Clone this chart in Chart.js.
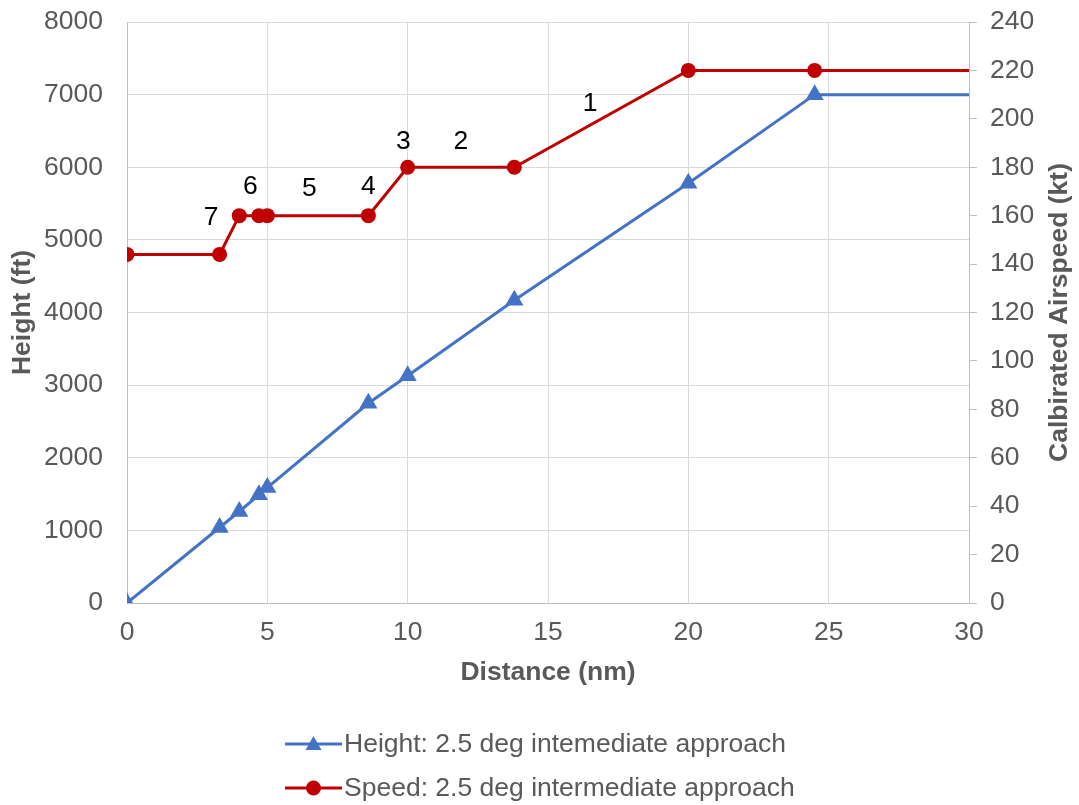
<!DOCTYPE html>
<html>
<head>
<meta charset="utf-8">
<script src="https://cdn.jsdelivr.net/npm/chart.js@4.4.1/dist/chart.umd.min.js"></script>
<style>
  body { margin: 0; background: #fff; }
  #wrap { width: 1079px; height: 805px; position: relative; }
</style>
</head>
<body>
<div id="wrap"><canvas id="approach"></canvas></div>
<script>
// height profile (ft) against distance (nm)
var distHeight = [0, 3.3, 4, 4.7, 5, 8.6, 10, 13.8, 20, 24.5, 30];
var heightFt   = [0, 1040, 1260, 1490, 1590, 2750, 3130, 4170, 5780, 7000, 7000];
// speed profile (kt)
var distSpeed  = [0, 3.3, 4, 4.7, 5, 8.6, 10, 13.8, 20, 24.5, 30];
var speedKt    = [144, 144, 160, 160, 160, 160, 180, 180, 220, 220, 220];

var seriesNames = ["Height: 2.5 deg intemediate approach", "Speed: 2.5 deg intermediate approach"];
var seriesColors = ["#4472C4", "#C00000"];

// segment numbers written on the chart (x in nm, y in ft on left axis)
var noteText = ["1", "2", "3", "4", "5", "6", "7"];
var noteX    = [16.5, 11.9, 9.85, 8.6, 6.5, 4.4, 3.0];
var noteY    = [6870, 6350, 6350, 5730, 5700, 5730, 5300];

var xTicks = [0, 5, 10, 15, 20, 25, 30];

var FONT = "'Liberation Sans', Arial, sans-serif";
var GREY = "#595959";
var FS = 26.5;

function toXY(xs, ys){
  var out = [];
  for (var i = 0; i < xs.length; i++) out.push({x: xs[i], y: ys[i]});
  return out;
}

// last point of each line has no marker
function radii(n, r){
  var a = [];
  for (var i = 0; i < n; i++) a.push(i == n - 1 ? 0 : r);
  return a;
}

function plain(v){ return String(v); }

var notesPlugin = {
  id: 'notes',
  afterDatasetsDraw: function(chart){
    var ctx = chart.ctx, sx = chart.scales.x, sy = chart.scales.y;
    ctx.save();
    ctx.font = FS + "px " + FONT;
    ctx.fillStyle = "#000";
    ctx.textAlign = "center";
    ctx.textBaseline = "middle";
    for (var i = 0; i < noteText.length; i++){
      ctx.fillText(noteText[i], sx.getPixelForValue(noteX[i]), sy.getPixelForValue(noteY[i]));
    }
    ctx.restore();
  }
};

var extrasPlugin = {
  id: 'extras',
  afterDraw: function(chart){
    var ctx = chart.ctx, area = chart.chartArea;
    ctx.save();
    // right axis title, reading bottom to top
    ctx.font = "bold " + FS + "px " + FONT;
    ctx.fillStyle = GREY;
    ctx.textAlign = "center";
    ctx.textBaseline = "middle";
    ctx.translate(1060, (area.top + area.bottom) / 2);
    ctx.rotate(-Math.PI / 2);
    ctx.fillText("Calbirated Airspeed (kt)", 0, 0);
    ctx.restore();

    // legend, one series per row
    ctx.save();
    ctx.font = FS + "px " + FONT;
    var lineW = 57, gap = 2, maxW = 0;
    for (var i = 0; i < seriesNames.length; i++){
      maxW = Math.max(maxW, lineW + gap + ctx.measureText(seriesNames[i]).width);
    }
    var left = Math.round((chart.width - maxW) / 2);
    var rowY = [744, 788];
    for (var i = 0; i < seriesNames.length; i++){
      var y = rowY[i];
      ctx.strokeStyle = seriesColors[i];
      ctx.fillStyle = seriesColors[i];
      ctx.lineWidth = 3;
      ctx.beginPath();
      ctx.moveTo(left, y);
      ctx.lineTo(left + lineW, y);
      ctx.stroke();
      var cx = left + lineW / 2;
      ctx.beginPath();
      if (i == 0){
        ctx.moveTo(cx, y - 8);
        ctx.lineTo(cx + 8, y + 6);
        ctx.lineTo(cx - 8, y + 6);
        ctx.closePath();
      } else {
        ctx.arc(cx, y, 7.5, 0, Math.PI * 2);
      }
      ctx.fill();
      ctx.fillStyle = GREY;
      ctx.textAlign = "left";
      ctx.textBaseline = "middle";
      ctx.fillText(seriesNames[i], left + lineW + gap, y + 1);
    }
    ctx.restore();
  }
};

new Chart(document.getElementById("approach"), {
  type: 'line',
  data: {
    datasets: [{
        label: seriesNames[0],
        data: toXY(distHeight, heightFt),
        yAxisID: 'y',
        borderColor: seriesColors[0],
        backgroundColor: seriesColors[0],
        borderWidth: 3,
        pointStyle: 'triangle',
        pointRadius: radii(distHeight.length, 10.5),
        pointBorderWidth: 0,
        fill: false
      }, {
        label: seriesNames[1],
        data: toXY(distSpeed, speedKt),
        yAxisID: 'y2',
        borderColor: seriesColors[1],
        backgroundColor: seriesColors[1],
        borderWidth: 3,
        pointStyle: 'circle',
        pointRadius: radii(distSpeed.length, 7.5),
        pointBorderWidth: 0,
        fill: false
      }
    ]
  },
  options: {
    responsive: true,
    maintainAspectRatio: false,
    animation: false,
    layout: { padding: { top: 22, bottom: 112, left: 0, right: 0 } },
    plugins: {
      legend: { display: false },
      tooltip: { enabled: false }
    },
    scales: {
      x: {
        type: 'linear',
        min: 0, max: 30,
        afterBuildTicks: function(s){ s.ticks = xTicks.map(function(v){ return {value: v}; }); },
        afterFit: function(s){ s.height = 90; s.paddingLeft = 0; s.paddingRight = 0; },
        grid: { color: '#d9d9d9', drawTicks: false },
        border: { color: '#bfbfbf', width: 1 },
        ticks: { padding: 14, color: GREY, font: { family: FONT, size: FS }, callback: plain },
        title: { display: true, text: 'Distance (nm)', color: GREY, padding: 4,
                 font: { family: FONT, size: FS, weight: 'bold' } }
      },
      y: {
        position: 'left',
        min: 0, max: 8000,
        afterFit: function(s){ s.width = 127; s.paddingTop = 0; s.paddingBottom = 0; },
        grid: { color: '#d9d9d9', drawTicks: false },
        border: { color: '#bfbfbf', width: 1 },
        ticks: { stepSize: 1000, padding: 24, color: GREY, font: { family: FONT, size: FS }, callback: plain },
        title: { display: true, text: 'Height (ft)', color: GREY, padding: 7,
                 font: { family: FONT, size: FS, weight: 'bold' } }
      },
      y2: {
        position: 'right',
        min: 0, max: 240,
        afterFit: function(s){ s.width = 110; s.paddingTop = 0; s.paddingBottom = 0; },
        grid: { drawOnChartArea: false, color: '#bfbfbf', tickLength: 8 },
        border: { color: '#bfbfbf', width: 1 },
        ticks: { stepSize: 20, padding: 13, color: GREY, font: { family: FONT, size: FS }, callback: plain }
      }
    }
  },
  plugins: [notesPlugin, extrasPlugin]
});
</script>
</body>
</html>
